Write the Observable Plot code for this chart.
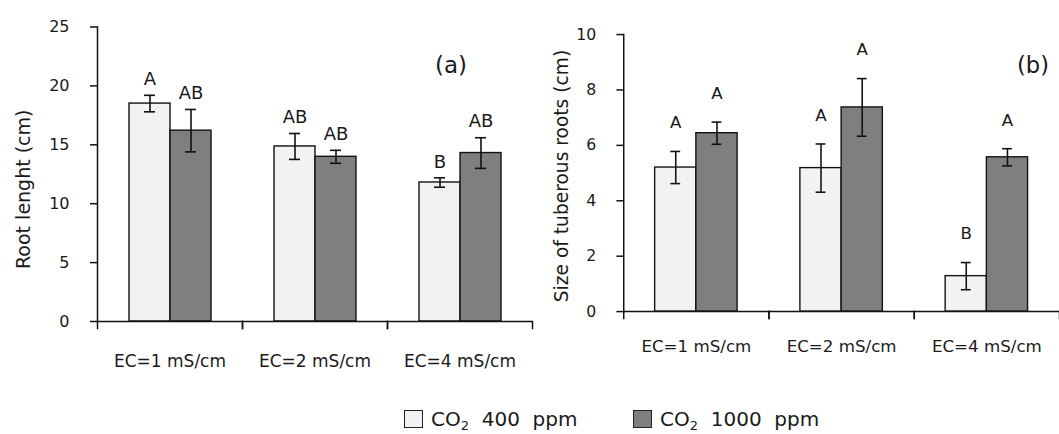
<!DOCTYPE html>
<html>
<head>
<meta charset="utf-8">
<script src="https://cdn.jsdelivr.net/npm/d3@7"></script>
<script src="https://cdn.jsdelivr.net/npm/@observablehq/plot@0.6"></script>
<style>
  html, body { margin: 0; padding: 0; background: #fff; overflow: hidden; }
  #wrap { position: relative; width: 1059px; height: 434px; overflow: hidden; font-family: "DejaVu Sans", sans-serif; color: #1a1a1a; }
  #left { position: absolute; left: 0; top: 0; }
  #right { position: absolute; left: 530px; top: 0; }
  #legend { position: absolute; top: 407px; left: 0; width: 1059px; font-size: 20px; line-height: 24px; }
  .item { position: absolute; display: flex; align-items: center; white-space: nowrap; }
  .sw { width: 17px; height: 16px; border: 1px solid #222; margin-right: 8px; box-sizing: content-box; }
  sub { font-size: 13px; vertical-align: -4px; line-height: 0; }
</style>
</head>
<body>
<div id="wrap">
  <div id="left"></div>
  <div id="right"></div>
  <div id="legend"></div>
</div>
<script>
// ---- data ----
const categories = ["EC=1 mS/cm", "EC=2 mS/cm", "EC=4 mS/cm"];
const co2Levels = ["400", "1000"];
const co2Labels = ["400 ppm", "1000 ppm"];
const co2Colors = ["#f2f2f2", "#7f7f7f"];

// (a) Root length (cm)
const rootLength400 = [18.5, 14.86, 11.8];
const rootLengthSe400 = [0.7, 1.1, 0.4];
const rootLength1000 = [16.2, 13.98, 14.3];
const rootLengthSe1000 = [1.8, 0.55, 1.3];
const rootLetters400 = ["A", "AB", "B"];
const rootLetters1000 = ["AB", "AB", "AB"];
const rootTicks = [0, 5, 10, 15, 20, 25];

// (b) Size of tuberous roots (cm)
const tuberSize400 = [5.2, 5.18, 1.28];
const tuberSizeSe400 = [0.58, 0.87, 0.49];
const tuberSize1000 = [6.44, 7.37, 5.57];
const tuberSizeSe1000 = [0.4, 1.04, 0.31];
const tuberLetters400 = ["A", "A", "B"];
const tuberLetters1000 = ["A", "A", "A"];
const tuberTicks = [0, 2, 4, 6, 8, 10];

function table(v400, se400, l400, v1000, se1000, l1000) {
  const rows = [];
  categories.forEach((ec, i) => {
    rows.push({ec, co2: co2Levels[0], v: v400[i], se: se400[i], letter: l400[i]});
    rows.push({ec, co2: co2Levels[1], v: v1000[i], se: se1000[i], letter: l1000[i]});
  });
  return rows;
}
const dataA = table(rootLength400, rootLengthSe400, rootLetters400, rootLength1000, rootLengthSe1000, rootLetters1000);
const dataB = table(tuberSize400, tuberSizeSe400, tuberLetters400, tuberSize1000, tuberSizeSe1000, tuberLetters1000);

function panel(cfg) {
  const plotH = cfg.height - cfg.marginTop - cfg.marginBottom;
  return Plot.plot({
    width: cfg.width,
    height: cfg.height,
    marginLeft: cfg.marginLeft,
    marginRight: cfg.marginRight,
    marginTop: cfg.marginTop,
    marginBottom: cfg.marginBottom,
    style: {fontFamily: "DejaVu Sans", fontSize: "16px", color: "#1a1a1a", background: "transparent", overflow: "visible"},
    fx: {domain: categories, padding: 0, label: null},
    x: {domain: co2Levels, paddingInner: 0, paddingOuter: cfg.po, axis: null},
    y: {domain: cfg.domain, axis: null},
    color: {domain: co2Levels, range: co2Colors},
    marks: [
      Plot.barY(cfg.data, {fx: "ec", x: "co2", y: "v", fill: "co2", stroke: "#111", strokeWidth: 1.4}),
      Plot.ruleX(cfg.data, {fx: "ec", x: "co2", y1: d => d.v - d.se, y2: d => d.v + d.se, stroke: "#111", strokeWidth: 1.6}),
      Plot.tickY(cfg.data, {fx: "ec", x: "co2", y: d => d.v + d.se, insetLeft: cfg.cap, insetRight: cfg.cap, stroke: "#111", strokeWidth: 1.6}),
      Plot.tickY(cfg.data, {fx: "ec", x: "co2", y: d => d.v - d.se, insetLeft: cfg.cap, insetRight: cfg.cap, stroke: "#111", strokeWidth: 1.6}),
      Plot.text(cfg.data, {fx: "ec", x: "co2", y: d => d.v + d.se, text: "letter", dy: cfg.letterDy, fontSize: cfg.letterSize, fill: "#1a1a1a"}),
      Plot.ruleY([0], {stroke: "#111", strokeWidth: 1.5}),
      Plot.frame({anchor: "left", insetTop: plotH, insetBottom: -7, stroke: "#111", strokeWidth: 1.5}),
      Plot.frame({anchor: "right", insetTop: plotH, insetBottom: -7, stroke: "#111", strokeWidth: 1.5}),
      Plot.frame({anchor: "left", facet: "super", stroke: "#111", strokeWidth: 1.5}),
      Plot.axisY({ticks: cfg.ticks, tickSize: 7, tickPadding: cfg.tickPadding, fontSize: 16, label: null, stroke: "#111", strokeWidth: 1.5}),
      Plot.axisFx({anchor: "bottom", tickSize: 0, tickPadding: cfg.fxPadding, fontSize: 17, label: null}),
      Plot.text([categories[0]], {fx: d => d, text: () => cfg.title, frameAnchor: "left", textAnchor: "middle", rotate: -90, dx: cfg.titleDx, dy: cfg.titleDy, fontSize: 19, fill: "#1a1a1a"}),
      Plot.text([categories[2]], {fx: d => d, text: () => cfg.tag, frameAnchor: "top", textAnchor: "middle", dx: cfg.tagDx, dy: cfg.tagDy, fontSize: 23, fill: "#1a1a1a"})
    ]
  });
}

document.getElementById("left").append(panel({
  data: dataA, domain: [0, 25], ticks: rootTicks,
  width: 540, height: 370, marginLeft: 96, marginRight: 8, marginTop: 26.5, marginBottom: 49,
  po: 0.743, cap: 15, letterDy: -16, letterSize: 18, tickPadding: 21, fxPadding: 33,
  title: "Root lenght (cm)", titleDx: -74, titleDy: 15,
  tag: "(a)", tagDx: -9, tagDy: 30
}));

document.getElementById("right").append(panel({
  data: dataB, domain: [0, 10], ticks: tuberTicks,
  width: 539, height: 370, marginLeft: 95, marginRight: 0, marginTop: 34.7, marginBottom: 53,
  po: 0.741, cap: 16, letterDy: -29, letterSize: 17, tickPadding: 21, fxPadding: 29,
  title: "Size of tuberous roots (cm)", titleDx: -63, titleDy: 3,
  tag: "(b)", tagDx: 47, tagDy: 23
}));

// legend
const legend = document.getElementById("legend");
const legendLeft = [404, 633];
co2Levels.forEach((k, i) => {
  const item = document.createElement("div");
  item.className = "item";
  item.style.left = legendLeft[i] + "px";
  const sw = document.createElement("div");
  sw.className = "sw";
  sw.style.background = co2Colors[i];
  item.append(sw);
  const label = document.createElement("span");
  label.innerHTML = "CO<sub>2</sub>&nbsp; " + co2Labels[i].replace(" ", "&nbsp; ");
  item.append(label);
  legend.append(item);
});
</script>
</body>
</html>
